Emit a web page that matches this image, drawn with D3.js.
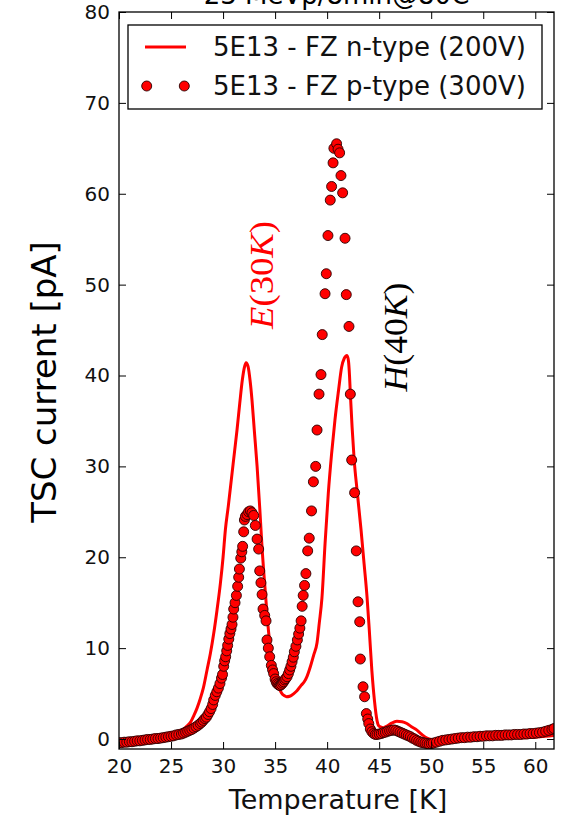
<!DOCTYPE html>
<html><head><meta charset="utf-8">
<script src="https://cdn.jsdelivr.net/npm/d3@7/dist/d3.min.js"></script>
<style>html,body{margin:0;padding:0;background:#fff;} svg{display:block;}</style>
</head><body>
<script>
const titleText = "23 MeVp/8min@80C";
const xLabel = "Temperature [K]";
const yLabel = "TSC current [pA]";
const seriesNames = ["5E13 - FZ n-type (200V)", "5E13 - FZ p-type (300V)"];
const xTicks = [20, 25, 30, 35, 40, 45, 50, 55, 60];
const yTicks = [0, 10, 20, 30, 40, 50, 60, 70, 80];

// n-type (line)
const nT = [20.0,21.0,22.0,23.0,24.0,24.6,25.0,25.6,26.0,26.5,26.9,27.2,27.5,27.8,28.1,28.46,28.78,29.1,29.42,29.74,30.0,30.22,30.5,30.8,31.1,31.34,31.6,31.85,32.05,32.21,32.4,32.6,32.78,33.0,33.27,33.52,33.75,34.07,34.4,34.7,35.0,35.3,35.6,35.9,36.1,36.4,36.8,37.1,37.5,37.8,38.07,38.4,38.7,39.03,39.25,39.5,39.8,40.11,40.43,40.75,41.1,41.39,41.65,41.91,42.05,42.15,42.23,42.4,42.6,42.9,43.26,43.55,43.83,44.05,44.3,44.55,44.8,45.0,45.4,45.8,46.2,46.7,47.2,47.66,48.1,48.6,49.1,49.6,50.0,50.5,51.5,52.5,53.5,54.7,56.0,57.9,59.0,60.0,61.0,61.8];
const nI = [-0.1,-0.15,-0.1,0.0,0.15,0.25,0.35,0.6,0.9,1.4,1.9,2.6,3.4,4.4,5.6,7.6,9.4,11.6,14.2,17.1,20.0,23.0,25.6,28.6,31.6,34.0,36.9,39.5,40.9,41.4,41.0,39.4,37.3,34.0,30.0,25.5,21.0,16.0,11.5,8.8,7.0,5.9,5.1,4.75,4.65,4.7,5.0,5.3,5.9,6.3,6.9,8.0,9.2,10.6,12.8,15.5,21.5,27.0,31.4,35.1,38.4,40.9,41.9,42.2,41.6,40.0,38.0,34.3,30.7,27.1,23.0,19.3,15.7,12.0,7.5,4.2,2.0,1.4,1.25,1.45,1.75,1.95,1.9,1.7,1.35,1.0,0.5,0.1,-0.05,-0.1,-0.1,-0.05,0.0,0.05,0.1,0.15,0.15,0.2,0.3,0.4];

// p-type (markers)
const pT = [20.0,20.25,20.5,20.75,21.0,21.25,21.5,21.75,22.0,22.25,22.5,22.75,23.0,23.25,23.5,23.75,24.0,24.25,24.5,24.75,25.0,25.25,25.5,25.75,26.0,26.2,26.4,26.6,26.8,27.0,27.2,27.4,27.6,27.8,27.95,28.1,28.25,28.4,28.55,28.7,28.85,29.0,29.1,29.25,29.4,29.55,29.7,29.85,29.95,30.06,30.15,30.25,30.35,30.44,30.55,30.65,30.76,30.86,30.95,31.02,31.15,31.28,31.4,31.5,31.57,31.7,31.8,31.88,31.98,32.05,32.15,32.3,32.45,32.62,32.78,32.94,33.1,33.27,33.42,33.52,33.64,33.75,33.84,34.0,34.13,34.22,34.35,34.48,34.64,34.76,34.86,35.0,35.1,35.19,35.3,35.4,35.5,35.6,35.72,35.82,35.92,36.02,36.15,36.28,36.4,36.52,36.63,36.75,36.85,37.0,37.14,37.26,37.38,37.5,37.6,37.7,37.83,37.96,38.13,38.28,38.5,38.68,38.9,39.03,39.22,39.41,39.53,39.8,39.92,40.08,40.3,40.43,40.57,40.65,40.91,41.05,41.2,41.33,41.49,41.72,41.84,42.1,42.23,42.36,42.64,42.8,42.97,43.13,43.19,43.45,43.6,43.77,43.9,44.0,44.15,44.3,44.47,44.63,44.8,45.0,45.2,45.4,45.6,45.8,46.0,46.2,46.4,46.6,46.8,47.0,47.2,47.4,47.6,47.8,48.0,48.2,48.4,48.6,48.8,49.0,49.2,49.4,49.6,49.8,50.0,50.2,50.5,50.8,51.1,51.4,51.7,52.0,52.3,52.6,52.9,53.2,53.5,53.8,54.1,54.4,54.7,55.0,55.3,55.6,55.9,56.2,56.5,56.8,57.1,57.4,57.7,58.0,58.3,58.6,58.9,59.2,59.5,59.8,60.1,60.4,60.7,61.0,61.3,61.6,61.8];
const pI = [-0.4,-0.4,-0.35,-0.35,-0.3,-0.3,-0.25,-0.2,-0.2,-0.15,-0.1,-0.05,-0.05,0.0,0.05,0.05,0.1,0.15,0.2,0.25,0.3,0.35,0.45,0.5,0.55,0.65,0.75,0.85,0.95,1.05,1.2,1.35,1.5,1.7,1.85,2.05,2.25,2.4,2.7,3.0,3.35,3.8,4.3,4.8,5.2,5.6,6.1,6.7,7.1,8.0,8.6,9.05,9.7,10.3,11.0,11.6,12.1,12.6,13.4,14.3,15.0,15.8,16.8,17.8,18.7,19.9,20.6,21.2,22.8,24.1,24.5,24.7,25.0,25.1,24.9,24.6,23.5,22.0,20.9,18.5,17.2,15.9,14.3,13.6,13.0,10.9,10.0,9.05,8.1,7.6,7.2,6.6,6.3,6.1,6.0,5.9,5.9,6.0,6.15,6.3,6.5,6.65,6.85,7.2,7.6,8.0,8.5,9.0,9.6,10.2,10.9,11.55,12.2,13.0,14.6,15.8,16.9,18.2,20.7,22.1,25.1,28.3,30.0,34.0,37.95,40.1,44.5,49.0,51.2,55.4,59.3,60.8,63.4,65.0,65.5,64.9,64.5,62.0,60.1,55.1,48.9,45.4,37.95,30.7,27.1,20.7,15.1,12.9,8.8,5.75,4.65,2.8,2.2,1.7,1.1,0.8,0.6,0.5,0.5,0.55,0.6,0.7,0.75,0.85,0.9,0.95,1.0,0.95,0.85,0.75,0.65,0.55,0.45,0.35,0.25,0.1,0.0,-0.15,-0.25,-0.35,-0.4,-0.45,-0.5,-0.55,-0.5,-0.45,-0.35,-0.25,-0.15,-0.1,-0.05,0.0,0.05,0.1,0.15,0.15,0.2,0.2,0.25,0.25,0.3,0.3,0.35,0.35,0.35,0.4,0.4,0.4,0.45,0.45,0.45,0.5,0.5,0.5,0.55,0.55,0.6,0.6,0.65,0.7,0.75,0.85,0.95,1.05,1.15];

const W = 561, H = 819;
const L = 119, R = 554, T = 12, B = 749;
const svg = d3.select("body").append("svg").attr("width", W).attr("height", H)
  .style("font-family", "'DejaVu Sans', sans-serif");

const x = d3.scaleLinear().domain([20, 61.8]).range([L, R]);
const y = d3.scaleLinear().domain([-1.1, 80]).range([B, T]);

svg.append("defs").append("clipPath").attr("id", "clip")
  .append("rect").attr("x", L).attr("y", T).attr("width", R - L).attr("height", B - T);

// title (mostly cut off at the top, as in the reference)
svg.append("text").attr("x", (L + R) / 2).attr("y", 4).attr("text-anchor", "middle")
  .attr("font-size", 26).attr("fill", "#000").text(titleText);

const plot = svg.append("g").attr("clip-path", "url(#clip)");
const lineData = nT.map((t, i) => [t, nI[i]]);
plot.append("path").datum(lineData)
  .attr("fill", "none").attr("stroke", "#ff0000").attr("stroke-width", 3)
  .attr("stroke-linejoin", "round")
  .attr("d", d3.line().x(d => x(d[0])).y(d => y(d[1])).curve(d3.curveMonotoneX));

const dotData = pT.map((t, i) => [t, pI[i]]);
plot.selectAll("circle.p").data(dotData).enter().append("circle").attr("class", "p")
  .attr("cx", d => x(d[0])).attr("cy", d => y(d[1])).attr("r", 5)
  .attr("fill", "#ff0000").attr("stroke", "#2a0000").attr("stroke-width", 0.9);

// annotations
svg.append("text").attr("transform", `translate(273,275) rotate(-90)`)
  .attr("text-anchor", "middle").attr("font-family", "'Liberation Serif', serif")
  .attr("font-size", 33).attr("fill", "#ff0000")
  .attr("textLength", 108).attr("lengthAdjust", "spacingAndGlyphs")
  .html('<tspan font-style="italic">E</tspan>(30<tspan font-style="italic">K</tspan>)');
svg.append("text").attr("transform", `translate(407,337) rotate(-90)`)
  .attr("text-anchor", "middle").attr("font-family", "'Liberation Serif', serif")
  .attr("font-size", 33).attr("fill", "#000")
  .attr("textLength", 109).attr("lengthAdjust", "spacingAndGlyphs")
  .html('<tspan font-style="italic">H</tspan>(40<tspan font-style="italic">K</tspan>)');

// axes
const tickLen = 7;
const gx = svg.append("g").attr("transform", `translate(0,${B})`)
  .call(d3.axisBottom(x).tickValues(xTicks).tickSizeInner(-tickLen).tickSizeOuter(0).tickPadding(10));
const gxt = svg.append("g").attr("transform", `translate(0,${T})`)
  .call(d3.axisTop(x).tickValues(xTicks).tickSizeInner(-tickLen).tickSizeOuter(0).tickFormat(""));
const gy = svg.append("g").attr("transform", `translate(${L},0)`)
  .call(d3.axisLeft(y).tickValues(yTicks).tickSizeInner(-tickLen).tickSizeOuter(0).tickPadding(9));
const gyr = svg.append("g").attr("transform", `translate(${R},0)`)
  .call(d3.axisRight(y).tickValues(yTicks).tickSizeInner(-tickLen).tickSizeOuter(0).tickFormat(""));
[gx, gxt, gy, gyr].forEach(g => {
  g.select(".domain").remove();
  g.selectAll(".tick line").attr("stroke", "#000").attr("stroke-width", 1);
  g.selectAll(".tick text").attr("font-size", 20).attr("fill", "#111")
    .attr("font-family", "'DejaVu Sans', sans-serif");
});
svg.append("rect").attr("x", L).attr("y", T).attr("width", R - L).attr("height", B - T)
  .attr("fill", "none").attr("stroke", "#000").attr("stroke-width", 1.3);

// axis labels
svg.append("text").attr("x", 338).attr("y", 809).attr("text-anchor", "middle")
  .attr("font-size", 27).attr("fill", "#111").text(xLabel);
svg.append("text").attr("transform", "translate(56,382) rotate(-90)").attr("text-anchor", "middle")
  .attr("font-size", 34).attr("fill", "#000").text(yLabel);

// legend
const lg = svg.append("g");
lg.append("rect").attr("x", 128).attr("y", 25).attr("width", 414).attr("height", 84)
  .attr("fill", "#fff").attr("stroke", "#000").attr("stroke-width", 1.3);
lg.append("line").attr("x1", 145).attr("x2", 186).attr("y1", 47).attr("y2", 47)
  .attr("stroke", "#ff0000").attr("stroke-width", 3);
[146.7, 184.3].forEach(cx => lg.append("circle").attr("cx", cx).attr("cy", 86).attr("r", 5)
  .attr("fill", "#ff0000").attr("stroke", "#2a0000").attr("stroke-width", 0.9));
lg.append("text").attr("x", 213).attr("y", 56).attr("font-size", 26).attr("fill", "#111").text(seriesNames[0]);
lg.append("text").attr("x", 213).attr("y", 95).attr("font-size", 26).attr("fill", "#111").text(seriesNames[1]);
</script>
</body></html>
